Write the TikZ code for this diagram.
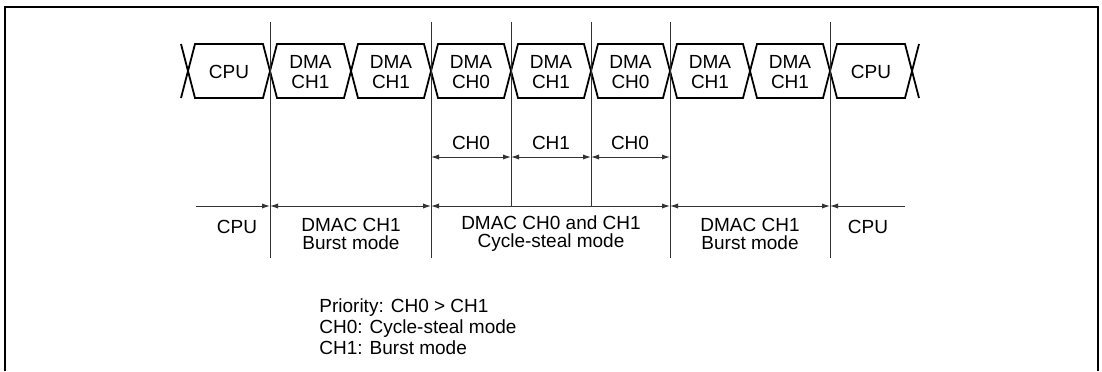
\documentclass[tikz,border=0pt]{standalone}
\usepackage{fontspec}
\setmainfont{Liberation Sans}
\usetikzlibrary{arrows.meta}

\begin{document}
\begin{tikzpicture}[x=0.5pt, y=-0.5pt,
  bus/.style={draw, line width=0.9pt},
  tick/.style={draw=black!80, line width=0.5pt},
  span/.style={{Latex[length=4pt,width=2.6pt]}-{Latex[length=4pt,width=2.6pt]}, line width=0.5pt, draw=black!80},
  stub/.style={line width=0.5pt, draw=black!80},
  lbl/.style={font=\fontsize{9.5}{10}\selectfont, align=center, inner sep=0pt},
  mode/.style={font=\fontsize{9.5}{9}\selectfont, align=center, inner sep=0pt}
]
  \useasboundingbox (0,0) rectangle (1102,371);
  % outer frame, open at the bottom
  \draw[line width=1pt] (5,371) -- (5,7) -- (1098,7) -- (1098,371);

  % bus cycles
  \foreach \a/\b/\t [count=\i] in {188/270/CPU, 270/351/{DMA\\CH1}, 351/431/{DMA\\CH1},
      431/511/{DMA\\CH0}, 511/591/{DMA\\CH1}, 591/670/{DMA\\CH0},
      670/750/{DMA\\CH1}, 750/830/{DMA\\CH1}, 830/912/CPU} {
    \draw[bus] (\a+7,44) -- (\b-7,44) -- (\b,71) -- (\b-7,98) -- (\a+7,98) -- (\a,71) -- cycle;
    \node[lbl] (bus\i) at ({(\a+\b)/2},72) {\t};
  }
  \draw[bus] (181,44) -- (188,71) -- (181,98);
  \draw[bus] (919,44) -- (912,71) -- (919,98);

  % boundaries
  \foreach \n/\x/\yb in {a/270/258, b/431/258, c/511/206, d/591/206, e/670/258, f/830/258} {
    \coordinate (top\n) at (\x,22);
    \coordinate (bot\n) at (\x,\yb);
    \coordinate (mid\n) at (\x,157);
    \coordinate (row\n) at (\x,206);
    \draw[tick] (top\n) -- (bot\n);
  }
  \coordinate (rowin) at (196,206);
  \coordinate (rowout) at (905,206);

  % cycle-steal spans
  \draw[span] (midb) -- (midc);
  \draw[span] (midc) -- (midd);
  \draw[span] (midd) -- (mide);
  \node[lbl] (st0) at (471,143) {CH0};
  \node[lbl] (st1) at (551,143) {CH1};
  \node[lbl] (st2) at (630,143) {CH0};

  % bus master spans
  \draw[stub, -{Latex[length=4pt,width=2.6pt]}] (rowin) -- (rowa);
  \draw[span] (rowa) -- (rowb);
  \draw[span] (rowb) -- (rowe);
  \draw[span] (rowe) -- (rowf);
  \draw[stub, -{Latex[length=4pt,width=2.6pt]}] (rowout) -- (rowf);

  \node[mode] (m0) at (237,227) {CPU};
  \node[mode] (m1) at (351,234) {DMAC CH1\\Burst mode};
  \node[mode] (m2) at (551,234) {DMAC CH0 and CH1\\Cycle-steal mode};
  \node[mode] (m3) at (750,234) {DMAC CH1\\Burst mode};
  \node[mode] (m4) at (868,227) {CPU};

  % legend
  \node[font=\fontsize{9.5}{10.5}\selectfont, align=left, inner sep=0pt, anchor=west] (note) at (319,327)
    {Priority: CH0 > CH1\\CH0: Cycle-steal mode\\CH1: Burst mode};
\end{tikzpicture}
\end{document}
